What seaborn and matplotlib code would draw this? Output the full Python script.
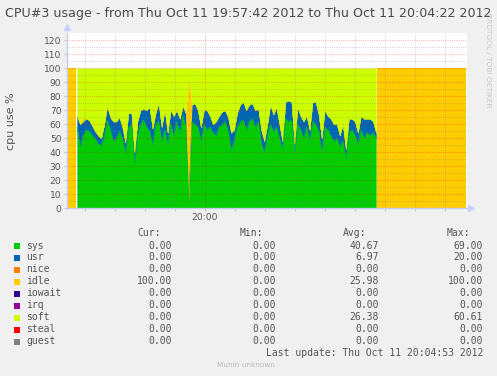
import numpy as np
import pandas as pd
import matplotlib
matplotlib.use("Agg")
import matplotlib.pyplot as plt
from matplotlib.patches import Rectangle
import seaborn as sns

W, H = 497, 376

# ---------------- data ----------------
title = "CPU#3 usage - from Thu Oct 11 19:57:42 2012 to Thu Oct 11 20:04:22 2012"
series_names = ["sys", "usr", "nice", "idle", "iowait", "irq", "soft", "steal", "guest"]
series_colors = ["#00CC00", "#0066B3", "#FF8000", "#FFCC00", "#330099",
                 "#990099", "#CCFF00", "#FF0000", "#808080"]

# seconds after 19:57:42
lead_t = [0, 9]
lead_idle = [100, 100]
trail_t = [310, 399]
trail_idle = [100, 100]
active_t = np.linspace(10, 309, 100)

sys_vals = [58, 44, 52, 56, 55, 52, 50, 46, 45, 52,
            63, 56, 48, 50, 55, 50, 39, 57, 60, 32,
            52, 60, 63, 58, 55, 45, 60, 62, 48, 56,
            46, 60, 52, 62, 54, 66, 58, 6, 62, 60,
            58, 48, 60, 56, 58, 54, 52, 58, 60, 62,
            55, 42, 48, 58, 62, 63, 56, 62, 64, 58,
            62, 46, 40, 52, 60, 55, 58, 50, 42, 64,
            62, 63, 40, 60, 56, 50, 58, 48, 62, 60,
            55, 40, 58, 56, 52, 48, 50, 44, 48, 36,
            54, 56, 52, 46, 56, 50, 54, 52, 54, 50]
usr_vals = [8, 16, 10, 8, 8, 7, 5, 6, 5, 8,
            10, 9, 14, 12, 10, 8, 8, 11, 8, 8,
            10, 10, 8, 12, 17, 12, 8, 13, 10, 14,
            8, 10, 14, 8, 10, 7, 10, 0, 12, 15,
            12, 10, 10, 14, 8, 6, 10, 8, 9, 8,
            10, 12, 8, 10, 12, 13, 14, 12, 11, 12,
            9, 10, 8, 8, 14, 12, 14, 10, 6, 12,
            15, 13, 6, 12, 10, 12, 8, 8, 14, 16,
            12, 10, 12, 10, 12, 12, 10, 8, 12, 6,
            10, 8, 10, 8, 10, 14, 10, 12, 8, 4]
idle_vals = [0, 0, 3] + [0] * 34 + [88] + [0] * 62
soft_vals = [34, 40, 35, 36, 37, 41, 45, 48, 50, 40,
             27, 35, 38, 38, 35, 42, 53, 32, 32, 60,
             38, 30, 29, 30, 28, 43, 32, 25, 42, 30,
             46, 30, 34, 30, 36, 27, 32, 6, 26, 25,
             30, 42, 30, 30, 34, 40, 38, 34, 31, 30,
             35, 46, 44, 32, 26, 24, 30, 26, 25, 30,
             29, 44, 52, 40, 26, 33, 28, 40, 52, 24,
             23, 24, 54, 28, 34, 38, 34, 44, 24, 24,
             33, 50, 30, 34, 36, 40, 40, 48, 40, 58,
             36, 36, 38, 46, 34, 36, 36, 36, 38, 46]

y_ticks = [0, 10, 20, 30, 40, 50, 60, 70, 80, 90, 100, 110, 120]
x_major_tick = [138]
x_major_label = ["20:00"]
x_minor_ticks = [18, 48, 78, 108, 168, 198, 228, 258, 288, 318, 348, 378]

cur_vals = ["0.00", "0.00", "0.00", "100.00", "0.00", "0.00", "0.00", "0.00", "0.00"]
min_vals = ["0.00"] * 9
avg_vals = ["40.67", "6.97", "0.00", "25.98", "0.00", "0.00", "26.38", "0.00", "0.00"]
max_vals = ["69.00", "20.00", "0.00", "100.00", "0.00", "0.00", "60.61", "0.00", "0.00"]
last_update = "Last update: Thu Oct 11 20:04:53 2012"
footer = "Munin unknown"
watermark = "RRDTOOL / TOBI OETIKER"

# ---------------- figure ----------------
sns.set_style("white")
plt.rcParams["font.family"] = ["DejaVu Sans"]

fig = plt.figure(figsize=(W / 100, H / 100), dpi=100)
fig.patch.set_facecolor("#F0F0F0")


def fx(x):
    return x / W


def fy(y):
    return 1 - y / H


ax = fig.add_axes([fx(67), fy(208.3), fx(467) - fx(67), fy(33.3) - fy(208.3)])
ax.set_facecolor("white")
ax.set_xlim(0, 400)
ax.set_ylim(0, 125)

idle_color = series_colors[3]
# lead / trail idle areas
ax.fill_between(lead_t, 0, lead_idle, color=idle_color, lw=0, zorder=1)
ax.fill_between(trail_t, 0, trail_idle, color=idle_color, lw=0, zorder=1)

# stacked active period
sys_a = np.array(sys_vals, float)
usr_a = np.array(usr_vals, float)
idle_a = np.array(idle_vals, float)
soft_a = np.array(soft_vals, float)
layers = [(sys_a, series_colors[0]), (usr_a, series_colors[1]),
          (idle_a, series_colors[3]), (soft_a, series_colors[6])]
base = np.zeros_like(sys_a)
for vals, col in layers:
    top = base + vals
    ax.fill_between(active_t, base, top, color=col, lw=0.2, edgecolor=col, zorder=1)
    base = top

# sys edge line via seaborn
df_edges = pd.DataFrame({"t": active_t, "sys_top": sys_a})
sns.lineplot(data=df_edges, x="t", y="sys_top", ax=ax, color=series_colors[0], lw=0.4, zorder=2)
ax.set_xlabel("")
ax.set_ylabel("")

# grid drawn on top
dot = (0, (1, 1))
for v in range(5, 125, 5):
    if v % 10 == 0:
        ax.axhline(v, color="#FF0000", alpha=0.28, lw=0.8, ls=dot, zorder=3)
    else:
        ax.axhline(v, color="#808080", alpha=0.3, lw=0.8, ls=dot, zorder=3)
for t in x_minor_ticks:
    ax.axvline(t, color="#808080", alpha=0.3, lw=0.8, ls=dot, zorder=3)
for t in x_major_tick:
    ax.axvline(t, color="#FF0000", alpha=0.28, lw=0.8, ls=dot, zorder=3)

# axes / ticks
for s in ["top", "right"]:
    ax.spines[s].set_visible(False)
axis_col = "#C8CCE6"
for s in ["left", "bottom"]:
    ax.spines[s].set_color(axis_col)
    ax.spines[s].set_linewidth(1.0)
    ax.spines[s].set_zorder(4)
ax.set_yticks(y_ticks)
ax.set_yticklabels([str(v) for v in y_ticks])
ax.set_xticks(x_major_tick)
ax.set_xticklabels(x_major_label)
ax.set_xticks(x_minor_ticks, minor=True)
ax.tick_params(axis="y", colors="#C8C8C8", labelcolor="#555555", labelsize=6.6,
               length=2, width=0.8, pad=2, left=True)
ax.tick_params(axis="x", which="both", colors="#C8C8C8", labelcolor="#555555",
               labelsize=6.6, length=2, width=0.8, pad=1.5, bottom=True)
ax.set_ylabel("cpu use %", fontsize=8, color="#555555", labelpad=20)

# arrows
ax.plot([0], [129.5], marker="^", ms=4, color="#C8D0FF", clip_on=False, zorder=5)
ax.plot([404], [0], marker=">", ms=4, color="#C8D0FF", clip_on=False, zorder=5)

# title / watermark
fig.text(fx(5), fy(13), title, ha="left", va="center", fontsize=9.1, color="#4A4A4A")
fig.text(fx(488), fy(60), watermark, ha="center", va="center", rotation=270,
         fontsize=5.3, color="#C8C8C8")

# legend table
mono = "DejaVu Sans Mono"
tc = "#555555"
fs = 7.0
hy = 233
fig.text(fx(137), fy(hy), "Cur:", ha="left", va="center", fontsize=fs, family=mono, color=tc)
fig.text(fx(240), fy(hy), "Min:", ha="left", va="center", fontsize=fs, family=mono, color=tc)
fig.text(fx(343), fy(hy), "Avg:", ha="left", va="center", fontsize=fs, family=mono, color=tc)
fig.text(fx(447), fy(hy), "Max:", ha="left", va="center", fontsize=fs, family=mono, color=tc)
for i, name in enumerate(series_names):
    ry = 245.5 + 12 * i
    fig.patches.append(Rectangle((fx(14), fy(ry + 3)), 6 / W, 6 / H,
                                 transform=fig.transFigure, color=series_colors[i],
                                 lw=0, figure=fig))
    fig.text(fx(26.5), fy(ry), name, ha="left", va="center", fontsize=fs, family=mono, color=tc)
    fig.text(fx(172), fy(ry), cur_vals[i], ha="right", va="center", fontsize=fs, family=mono, color=tc)
    fig.text(fx(276), fy(ry), min_vals[i], ha="right", va="center", fontsize=fs, family=mono, color=tc)
    fig.text(fx(379), fy(ry), avg_vals[i], ha="right", va="center", fontsize=fs, family=mono, color=tc)
    fig.text(fx(483), fy(ry), max_vals[i], ha="right", va="center", fontsize=fs, family=mono, color=tc)
fig.text(fx(483), fy(353.3), last_update, ha="right", va="center", fontsize=fs, family=mono, color=tc)
fig.text(fx(217), fy(365), footer, ha="left", va="center", fontsize=5.3, color="#BBBBBB")

fig.savefig("out.png", dpi=100, facecolor=fig.get_facecolor())
